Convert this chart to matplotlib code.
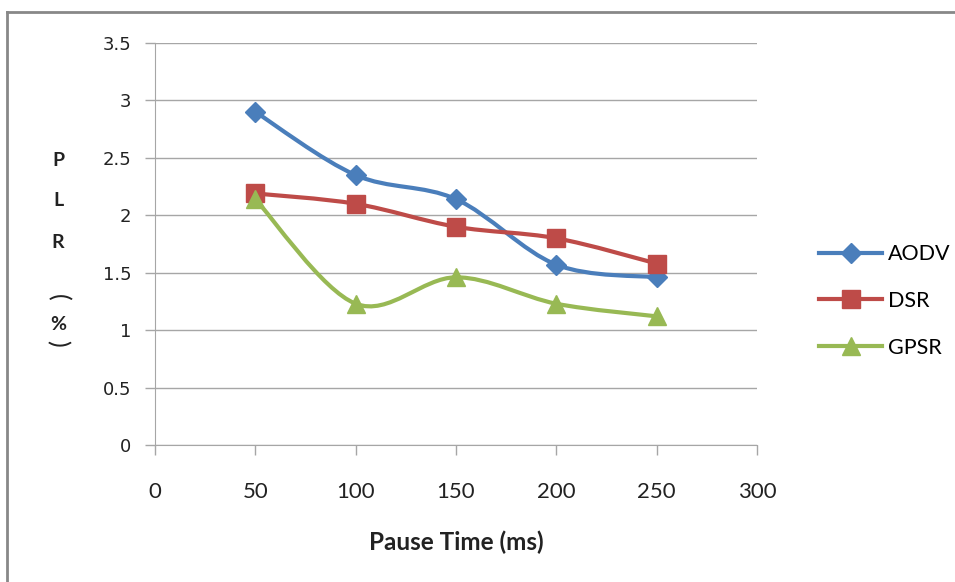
import matplotlib.pyplot as plt
from matplotlib.path import Path
from matplotlib.patches import PathPatch
from matplotlib.lines import Line2D
import numpy as np

pause_time = [50, 100, 150, 200, 250]
aodv = [2.90, 2.35, 2.14, 1.57, 1.46]
dsr = [2.19, 2.10, 1.90, 1.80, 1.58]
gpsr = [2.14, 1.23, 1.46, 1.23, 1.12]

series_names = ['AODV', 'DSR', 'GPSR']
colors = ['#4A7EBB', '#BE4B48', '#98B954']
markers = ['D', 's', '^']
marker_sizes = [10, 13, 13]

x_ticks = [0, 50, 100, 150, 200, 250, 300]
y_ticks = [0, 0.5, 1, 1.5, 2, 2.5, 3, 3.5]


def smooth_path(xs, ys):
    # Catmull-Rom style bezier segments, like the "smoothed line" option in excel
    pts = np.column_stack([xs, ys]).astype(float)
    verts = [pts[0]]
    codes = [Path.MOVETO]
    n = len(pts)
    for i in range(n - 1):
        p0 = pts[i - 1] if i > 0 else pts[i]
        p1 = pts[i]
        p2 = pts[i + 1]
        p3 = pts[i + 2] if i + 2 < n else pts[i + 1]
        c1 = p1 + (p2 - p0) / 6.0
        c2 = p2 - (p3 - p1) / 6.0
        verts += [c1, c2, p2]
        codes += [Path.CURVE4] * 3
    return Path(verts, codes)


fig = plt.figure(figsize=(9.55, 5.82), dpi=100)
ax = fig.add_axes([155 / 955, 1 - 445 / 582, (757 - 155) / 955, (445 - 43) / 582])

for vals, c, m, ms in zip([aodv, dsr, gpsr], colors, markers, marker_sizes):
    ax.add_patch(PathPatch(smooth_path(pause_time, vals), facecolor='none',
                           edgecolor=c, lw=3, capstyle='round', joinstyle='round', zorder=3))
    ax.plot(pause_time, vals, linestyle='none', marker=m, ms=ms, color=c,
            markeredgecolor=c, zorder=4)

ax.set_xlim(0, 300)
ax.set_ylim(0, 3.5)
ax.set_xticks(x_ticks)
ax.set_yticks(y_ticks)
ax.set_yticklabels([f'{v:g}' for v in y_ticks], fontfamily='DejaVu Sans', fontsize=13)
ax.set_xticklabels([str(v) for v in x_ticks], fontfamily='Lato', fontsize=16)
ax.yaxis.grid(True, color='#a6a6a6', lw=1)
ax.set_axisbelow(True)
for s in ['top', 'right']:
    ax.spines[s].set_visible(False)
for s in ['left', 'bottom']:
    ax.spines[s].set_color('#a6a6a6')
ax.tick_params(axis='both', colors='#a6a6a6', length=7, width=1, labelcolor='#222222')
ax.tick_params(axis='x', pad=20)
ax.tick_params(axis='y', pad=10)

fig.text(456 / 955, 1 - 542 / 582, 'Pause Time (ms)', ha='center', va='center',
         fontfamily='Lato', fontweight='bold', fontsize=17.5, color='#222222')

# vertical y label, letter by letter as in the original (brackets turned sideways)
for ch, ypx, rot, fs, fw in [('P', 160, 0, 14, 'bold'), ('L', 201, 0, 14, 'bold'),
                             ('R', 242, 0, 14, 'bold'), ('(', 297, 270, 18, 'normal'),
                             ('%', 324, 0, 14, 'bold'), (')', 343, 270, 18, 'normal')]:
    fig.text(58 / 955, 1 - ypx / 582, ch, ha='center', va='center', rotation=rot,
             rotation_mode='anchor', fontfamily='Lato', fontweight=fw, fontsize=fs,
             color='#222222')

handles = [Line2D([], [], color=c, lw=3, marker=m, ms=ms, label=n)
           for n, c, m, ms in zip(series_names, colors, markers, marker_sizes)]
fig.legend(handles=handles, loc='center left', bbox_to_anchor=(800 / 955, 1 - 301 / 582),
           frameon=False, prop={'family': 'Lato', 'size': 15.5}, handlelength=2.9,
           handletextpad=0.3, labelspacing=1.25)

# outer chart border (top and left edges visible)
fig.add_artist(Line2D([7 / 955, 7 / 955], [0, 1 - 12 / 582], color='#888888', lw=2))
fig.add_artist(Line2D([7 / 955, 1], [1 - 12 / 582, 1 - 12 / 582], color='#888888', lw=2))

fig.savefig('out.png', dpi=100, facecolor='white')
